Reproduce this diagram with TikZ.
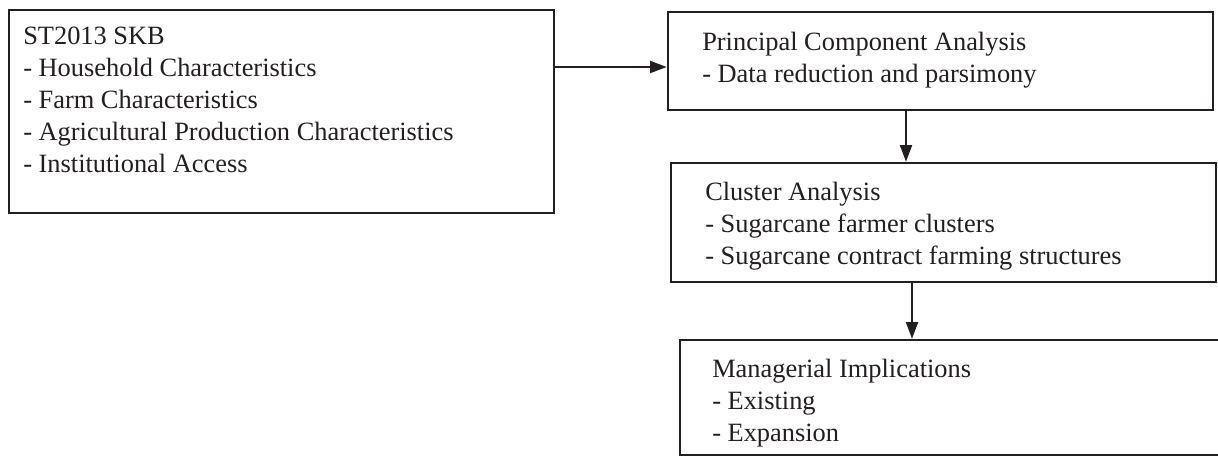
\documentclass[tikz,border=0pt]{standalone}
\usepackage{fontspec}
\setmainfont{Liberation Serif}
\usetikzlibrary{arrows.meta,fit}
\definecolor{ink}{RGB}{35,31,32}
\tikzset{
  box/.style={draw=ink, line width=1.9pt, inner sep=0pt, rectangle},
  txt/.style={anchor=base west, inner sep=0pt, text=ink, font=\fontsize{19.8pt}{24pt}\selectfont},
  arr/.style={draw=ink, line width=1.5pt, -{Triangle[length=12.5pt,width=9pt]}}
}
\newcommand{\lines}[1]{\begin{tabular}[t]{@{}l@{}}#1\end{tabular}}
\begin{document}
\begin{tikzpicture}[x=0.75pt,y=-0.75pt]
\clip (0,0) rectangle (1218,457);
\fill[white] (0,0) rectangle (1218,457);
% boxes
\node[box, fit={(9,10) (554,213)}] (skb) {};
\node[box, fit={(668,12) (1213,110)}] (pca) {};
\node[box, fit={(671,163) (1216,282)}] (clu) {};
\node[box, fit={(680,340) (1240,455)}] (man) {};
% texts
\node[txt] (skbt) at (23,44) {\lines{ST2013 SKB\\- Household Characteristics\\- Farm Characteristics\\- Agricultural Production Characteristics\\- Institutional Access}};
\node[txt] (pcat) at (702,50) {\lines{Principal Component Analysis\\- Data reduction and parsimony}};
\node[txt] (clut) at (705,200) {\lines{Cluster Analysis\\- Sugarcane farmer clusters\\- Sugarcane contract farming structures}};
\node[txt] (mant) at (712,377) {\lines{Managerial Implications\\- Existing\\- Expansion}};
% connectors
\coordinate (h1) at (0,67);
\coordinate (v1) at (906,0);
\coordinate (v2) at (912,0);
\draw[arr] (skb.east |- h1) -- (pca.west |- h1);
\draw[arr] (pca.south -| v1) -- (clu.north -| v1);
\draw[arr] (clu.south -| v2) -- (man.north -| v2);
\end{tikzpicture}
\end{document}
